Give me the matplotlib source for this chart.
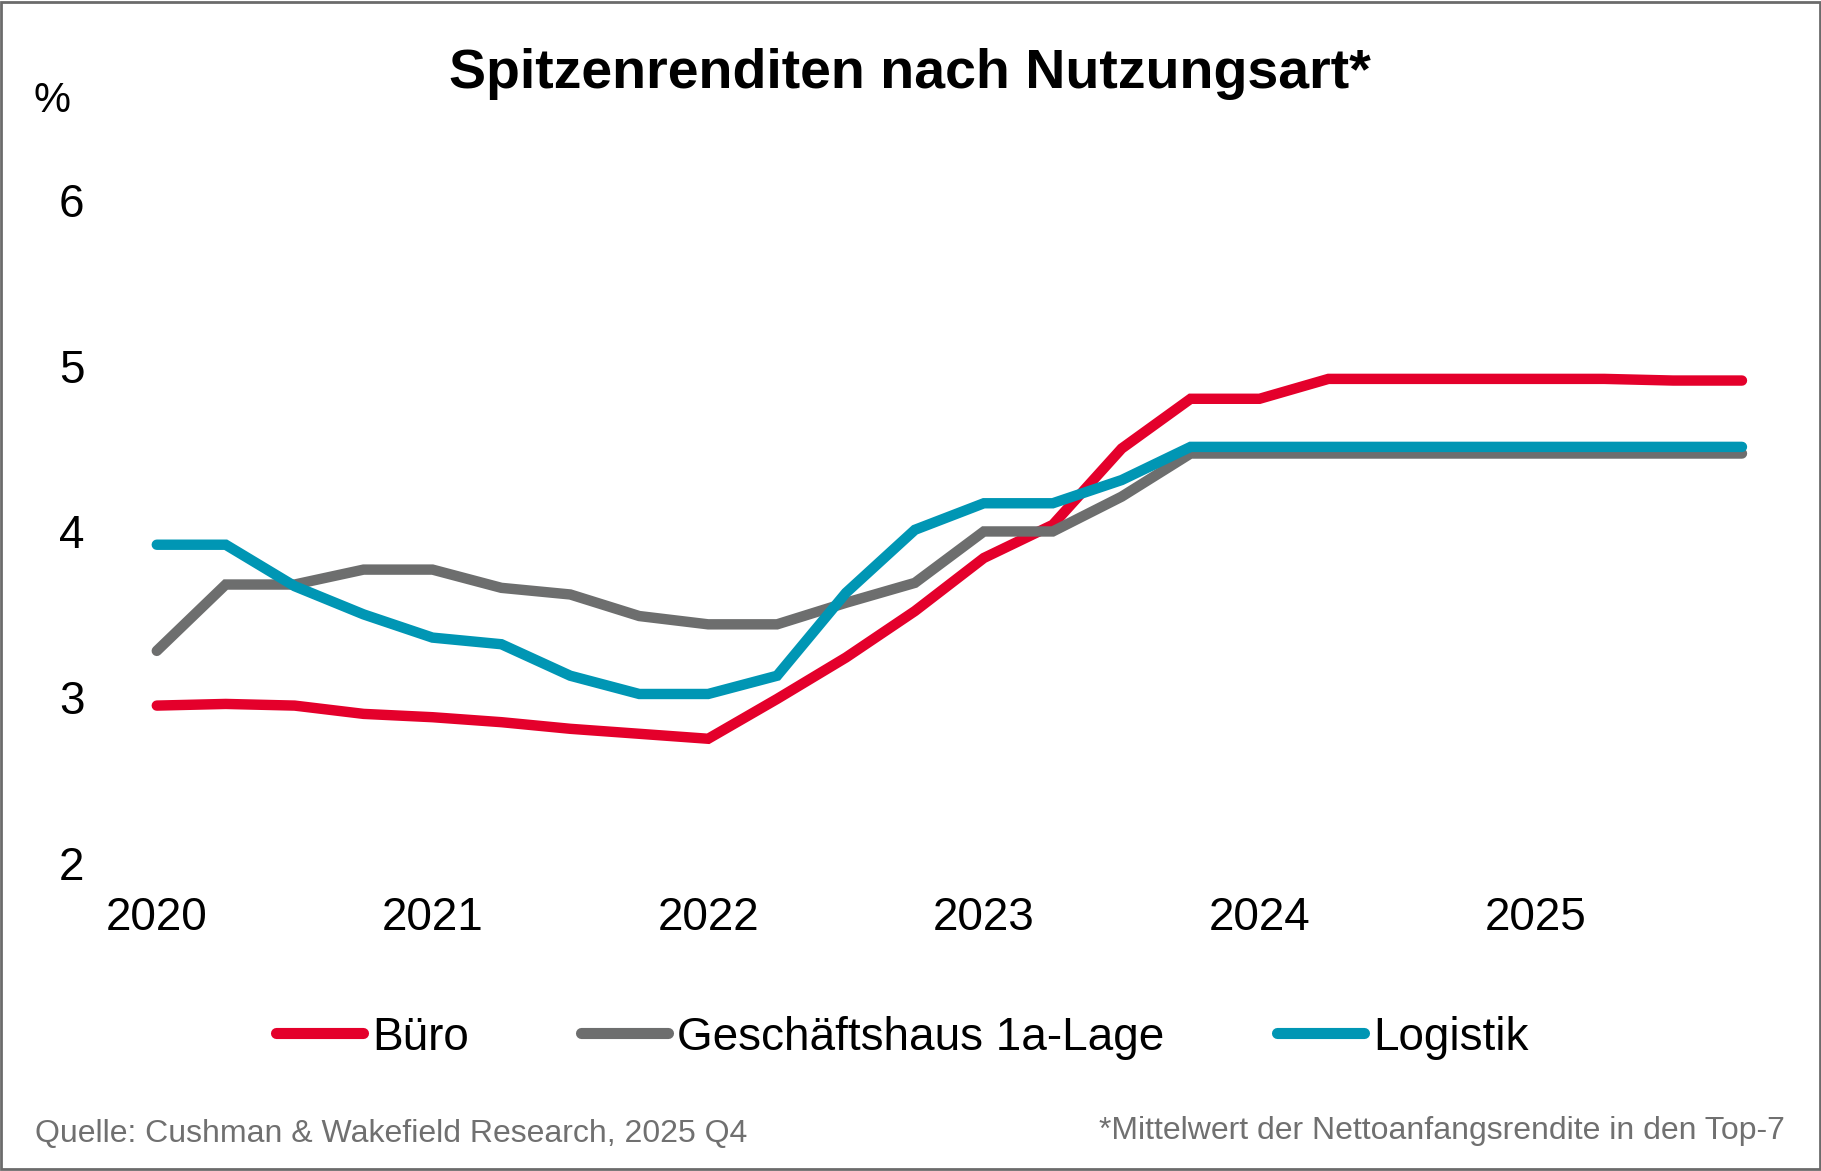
import matplotlib
matplotlib.use("Agg")
import matplotlib.pyplot as plt
import numpy as np
from matplotlib.patches import Rectangle

plt.rcParams['font.family'] = ['Liberation Sans', 'DejaVu Sans']

# quarterly values, 2020 Q1 .. 2025 Q4
quarters = np.arange(24) * 0.25 + 2020
buero = [2.95, 2.96, 2.95, 2.90, 2.88, 2.85, 2.81, 2.78,
         2.75, 2.99, 3.24, 3.52, 3.84, 4.04, 4.50, 4.80,
         4.80, 4.92, 4.92, 4.92, 4.92, 4.92, 4.91, 4.91]
geschaeftshaus = [3.28, 3.68, 3.68, 3.77, 3.77, 3.66, 3.62, 3.49,
                  3.44, 3.44, 3.57, 3.69, 4.00, 4.00, 4.21, 4.47,
                  4.47, 4.47, 4.47, 4.47, 4.47, 4.47, 4.47, 4.47]
logistik = [3.92, 3.92, 3.67, 3.50, 3.36, 3.32, 3.13, 3.02,
            3.02, 3.13, 3.63, 4.01, 4.17, 4.17, 4.31, 4.51,
            4.51, 4.51, 4.51, 4.51, 4.51, 4.51, 4.51, 4.51]
series_names = ["Büro", "Geschäftshaus 1a-Lage", "Logistik"]
colors = ["#E4002B", "#6D6E6E", "#0096B4"]
year_ticks = [2020, 2021, 2022, 2023, 2024, 2025]
y_ticks = [2, 3, 4, 5, 6]

fig = plt.figure(figsize=(18.21, 11.71), dpi=100)
ax = fig.add_axes([0.0861, 0.2629, 0.8705, 0.5665])

for vals, name, c in zip([buero, geschaeftshaus, logistik], series_names, colors):
    ax.plot(quarters, vals, color=c, lw=7.5, label=name,
            solid_capstyle='round', solid_joinstyle='miter', clip_on=False)

ax.set_xlim(2020, 2025.75)
ax.set_ylim(2, 6)
ax.set_xticks(year_ticks)
ax.set_yticks(y_ticks)
ax.tick_params(axis='x', length=0, pad=24, labelsize=33)
ax.tick_params(axis='y', length=0, pad=52, labelsize=33)
for s in ax.spines.values():
    s.set_visible(False)

fig.text(0.4994, 0.937, "Spitzenrenditen nach Nutzungsart*", ha='center', va='center',
         fontsize=40, fontweight='bold')
fig.text(0.0287, 0.914, "%", ha='center', va='center', fontsize=30)

fig.legend(loc='center', bbox_to_anchor=(0.4955, 0.114), ncol=3, frameon=False,
           fontsize=33, handlelength=1.9, handletextpad=0.2, columnspacing=2.45)
for l in fig.legends[0].get_lines():
    l.set_linewidth(8)
    l.set_solid_capstyle('round')

fig.text(0.019, 0.032, "Quelle: Cushman & Wakefield Research, 2025 Q4", ha='left', va='center',
         fontsize=23, color='#707070')
fig.text(0.980, 0.034, "*Mittelwert der Nettoanfangsrendite in den Top-7", ha='right', va='center',
         fontsize=23, color='#707070')

fig.patches.append(Rectangle((0.0008, 0.0015), 0.9984, 0.997, transform=fig.transFigure,
                             fill=False, edgecolor='#6B6B6B', lw=2))

fig.savefig("out.png", dpi=100)
